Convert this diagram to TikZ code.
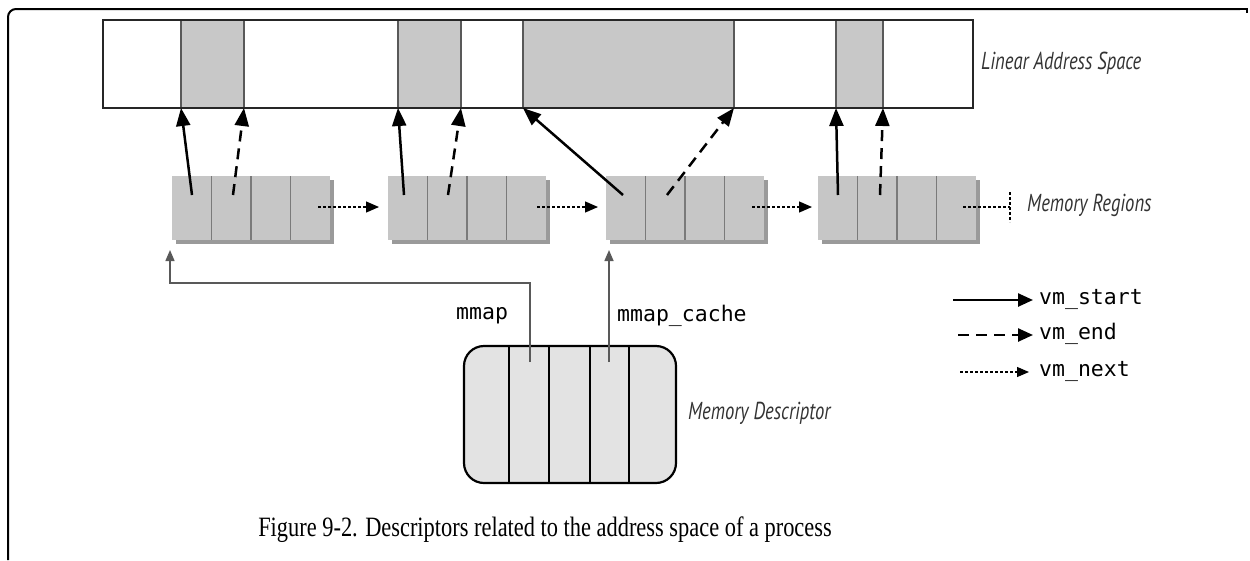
\documentclass[tikz,border=0pt]{standalone}
\usepackage{fontspec}
\setmainfont{Liberation Serif}
\newfontfamily\lblfont[FakeStretch=0.76]{PT Sans}
\newfontfamily\monofont{DejaVu Sans Mono}
\usetikzlibrary{arrows.meta}
\definecolor{segfill}{HTML}{C8C8C8}
\definecolor{regfill}{HTML}{C6C6C6}
\definecolor{shadowc}{HTML}{9A9A9A}
\definecolor{divc}{HTML}{7A7A7A}
\definecolor{mdfill}{HTML}{E3E3E3}
\definecolor{lblc}{HTML}{333333}
\begin{document}
\begin{tikzpicture}[x=1pt,y=-1pt,
  box/.style={draw=black!85, line width=1.6pt, inner sep=0pt, outer sep=0pt},
  seg/.style={draw=black!65, line width=1.6pt, fill=segfill, inner sep=0pt, outer sep=0pt, minimum height=88pt},
  region/.style={fill=regfill, inner sep=0pt, outer sep=0pt, minimum width=158pt, minimum height=64pt},
  divider/.style={draw=divc, line width=1.4pt},
  startarr/.style={line width=2.5pt, -{Triangle[length=18pt,width=14pt]}},
  endarr/.style={startarr, dash pattern=on 11pt off 7pt},
  nextarr/.style={line width=1.3pt, dash pattern=on 3pt off 2pt, -{Triangle[length=13pt,width=11pt]}},
  ptrarr/.style={draw=black!65, line width=1.5pt, -{Triangle[length=11pt,width=9pt]}},
  lbl/.style={font=\lblfont\itshape\fontsize{24.5}{28}\selectfont, text=lblc, inner sep=0pt, anchor=west},
  mono/.style={font=\monofont\fontsize{21.5}{25}\selectfont, inner sep=0pt, anchor=west},
]
\useasboundingbox (0,0) rectangle (1250,560);
% frame
\draw[line width=2pt, rounded corners=8pt] (8,560) -- (8,9) -- (1240,9);
\draw[line width=2pt] (1240,9) -- (1247,9) -- (1247,13);

% linear address space
\node[box, minimum width=870pt, minimum height=88pt] (las) at (538,64) {};
\node[seg, minimum width=63pt]  (seg1) at (212.5,64) {};
\node[seg, minimum width=63pt]  (seg2) at (429.5,64) {};
\node[seg, minimum width=211pt] (seg3) at (628.5,64) {};
\node[seg, minimum width=47pt]  (seg4) at (859.5,64) {};
\draw[box] (las.north west) rectangle (las.south east);
\node[lbl] (laslbl) at (981,63) {Linear Address Space};

% memory regions
\foreach \n/\x in {1/172,2/388,3/606,4/818}{
  \fill[shadowc] (\x+4,180) rectangle (\x+162,244);
  \node[region] (mr\n) at (\x+79,208) {};
  \foreach \k in {1,2,3}{
    \draw[divider] (\x+\k*39.5,176) -- (\x+\k*39.5,240);
  }
}
\node[lbl] (mrlbl) at (1027,205) {Memory Regions};

% start/end pointers
\coordinate (a1) at (192,195); \coordinate (b1) at (233,195);
\coordinate (a2) at (404,195); \coordinate (b2) at (448,195);
\coordinate (a3) at (623,195); \coordinate (b3) at (667,195);
\coordinate (a4) at (838,195); \coordinate (b4) at (880,195);
\draw[startarr] (a1) -- (seg1.south west);
\draw[endarr]   (b1) -- (seg1.south east);
\draw[startarr] (a2) -- (seg2.south west);
\draw[endarr]   (b2) -- (seg2.south east);
\draw[startarr] (a3) -- (seg3.south west);
\draw[endarr]   (b3) -- (seg3.south east);
\draw[startarr] (a4) -- (seg4.south west);
\draw[endarr]   (b4) -- (seg4.south east);

% next pointers
\coordinate (n1) at (318,207); \coordinate (n2) at (537,207);
\coordinate (n3) at (752,207); \coordinate (n4) at (963,207);
\coordinate (m2) at (379,207); \coordinate (m3) at (598,207);
\coordinate (m4) at (812,207);
\draw[nextarr] (n1) -- (m2);
\draw[nextarr] (n2) -- (m3);
\draw[nextarr] (n3) -- (m4);
\coordinate (nil) at (1010,207);
\coordinate (nilt) at (1010,192); \coordinate (nilb) at (1010,222);
\draw[line width=1.3pt, dash pattern=on 3pt off 2pt] (n4) -- (nil);
\draw[line width=1.3pt, dash pattern=on 3pt off 2pt] (nilt) -- (nilb);

% memory descriptor
\node[draw=black, line width=2.2pt, fill=mdfill, rounded corners=20pt, minimum width=212pt, minimum height=137pt, inner sep=0pt] (md) at (570,414.5) {};
\foreach \x in {509,549,590,629}{
  \draw[line width=1.5pt] (\x,347) -- (\x,482);
}
\node[lbl] (mdlbl) at (688,413) {Memory Descriptor};

\coordinate (p1) at (530,362); \coordinate (p1a) at (530,283);
\coordinate (p1b) at (170,283); \coordinate (p1c) at (170,250);
\coordinate (p2) at (609,362); \coordinate (p2a) at (609,250);
\draw[ptrarr] (p1) -- (p1a) -- (p1b) -- (p1c);
\draw[ptrarr] (p2) -- (p2a);
\node[mono] (mmap) at (456,316) {mmap};
\node[mono] (mmapc) at (617,316) {mmap\_cache};

% legend
\coordinate (l1a) at (953,300); \coordinate (l1b) at (1033,300);
\coordinate (l2a) at (958,335); \coordinate (l2b) at (1033,335);
\coordinate (l3a) at (960,372); \coordinate (l3b) at (1029,372);
\draw[line width=2.5pt, -{Triangle[length=15pt,width=13pt]}] (l1a) -- (l1b);
\draw[line width=2.5pt, dash pattern=on 11pt off 7pt, -{Triangle[length=15pt,width=13pt]}] (l2a) -- (l2b);
\draw[line width=1.2pt, dash pattern=on 3pt off 2pt, -{Triangle[length=12pt,width=10pt]}] (l3a) -- (l3b);
\node[mono] (vs) at (1039,299) {vm\_start};
\node[mono] (ve) at (1039,334) {vm\_end};
\node[mono] (vn) at (1039,371) {vm\_next};

% caption
\node[inner sep=0pt] (cap) at (545,530) {\scalebox{1}[1.25]{\fontsize{22.4}{26}\selectfont Figure 9-2. Descriptors related to the address space of a process}};
\end{tikzpicture}
\end{document}
